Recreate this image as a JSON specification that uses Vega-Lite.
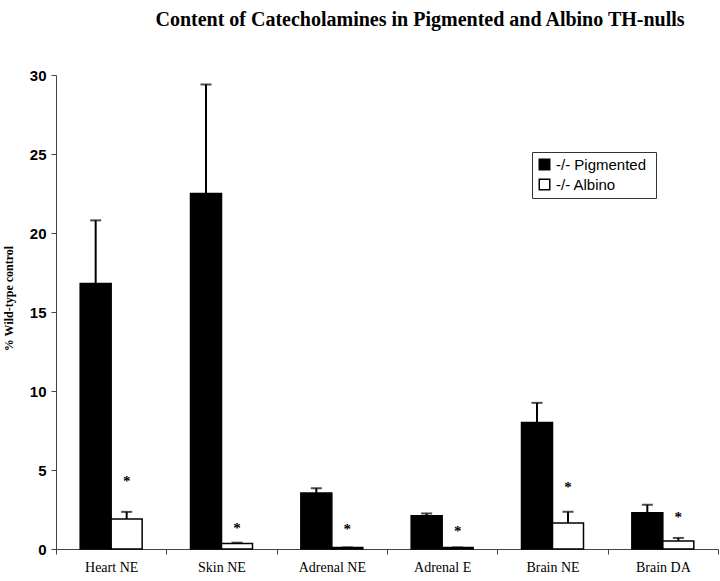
{
  "$schema": "https://vega.github.io/schema/vega-lite/v6.json",
  "autosize": "none",
  "width": 662,
  "height": 474,
  "padding": {"left": 56, "top": 75, "right": 2, "bottom": 32},
  "background": "white",
  "title": {
    "text": "Content of Catecholamines in Pigmented and Albino TH-nulls",
    "font": "Liberation Serif",
    "fontSize": 20,
    "fontWeight": "bold",
    "color": "black",
    "anchor": "middle",
    "dx": 33,
    "offset": 38
  },
  "data": {
    "values": [
      {"tissue": "Heart NE", "group": "-/-  Pigmented", "value": 16.8, "hi": 20.8, "star": null},
      {"tissue": "Heart NE", "group": "-/-  Albino", "value": 1.9, "hi": 2.35, "star": 4.5},
      {"tissue": "Skin NE", "group": "-/-  Pigmented", "value": 22.5, "hi": 29.4, "star": null},
      {"tissue": "Skin NE", "group": "-/-  Albino", "value": 0.35, "hi": 0.4, "star": 1.5},
      {"tissue": "Adrenal NE", "group": "-/-  Pigmented", "value": 3.55, "hi": 3.85, "star": null},
      {"tissue": "Adrenal NE", "group": "-/-  Albino", "value": 0.1, "hi": 0.1, "star": 1.45},
      {"tissue": "Adrenal E", "group": "-/-  Pigmented", "value": 2.1, "hi": 2.25, "star": null},
      {"tissue": "Adrenal E", "group": "-/-  Albino", "value": 0.1, "hi": 0.1, "star": 1.3},
      {"tissue": "Brain NE", "group": "-/-  Pigmented", "value": 8.0, "hi": 9.25, "star": null},
      {"tissue": "Brain NE", "group": "-/-  Albino", "value": 1.65, "hi": 2.35, "star": 4.1},
      {"tissue": "Brain DA", "group": "-/-  Pigmented", "value": 2.3, "hi": 2.8, "star": null},
      {"tissue": "Brain DA", "group": "-/-  Albino", "value": 0.5, "hi": 0.7, "star": 2.2}
    ]
  },
  "encoding": {
    "x": {
      "field": "tissue",
      "type": "nominal",
      "sort": ["Heart NE", "Skin NE", "Adrenal NE", "Adrenal E", "Brain NE", "Brain DA"],
      "scale": {"paddingInner": 0, "paddingOuter": 0},
      "axis": {
        "title": null,
        "labelAngle": 0,
        "labelFont": "Liberation Serif",
        "labelFontSize": 14,
        "labelColor": "black",
        "labelPadding": 6,
        "tickBand": "extent",
        "tickSize": 5,
        "tickColor": "#444",
        "domainColor": "#444",
        "domainWidth": 1,
        "grid": false
      }
    },
    "xOffset": {
      "field": "group",
      "type": "nominal",
      "sort": ["-/-  Pigmented", "-/-  Albino"],
      "scale": {"paddingOuter": 0.78, "paddingInner": 0}
    }
  },
  "layer": [
    {
      "mark": {"type": "bar", "stroke": "black", "strokeWidth": 1.5},
      "encoding": {
        "y": {
          "field": "value",
          "type": "quantitative",
          "scale": {"domain": [0, 30], "nice": false},
          "axis": {
            "values": [0, 5, 10, 15, 20, 25, 30],
            "title": "% Wild-type control",
            "titleFont": "Liberation Serif",
            "titleFontSize": 12,
            "titleFontWeight": "bold",
            "titleColor": "black",
            "titleY": 223,
            "titlePadding": 14,
            "labelFontSize": 15,
            "labelFont": "Liberation Sans",
            "labelFontWeight": "bold",
            "labelColor": "black",
            "labelPadding": 5,
            "tickSize": 5,
            "tickColor": "#444",
            "domainColor": "#444",
            "grid": false
          }
        },
        "fill": {
          "field": "group",
          "type": "nominal",
          "sort": ["-/-  Pigmented", "-/-  Albino"],
          "scale": {"range": ["black", "white"]},
          "legend": {
            "title": null,
            "orient": "none",
            "legendX": 476,
            "legendY": 77,
            "symbolType": "square",
            "symbolSize": 110,
            "symbolStrokeColor": "black",
            "symbolStrokeWidth": 1.5,
            "labelFont": "Liberation Sans",
            "labelFontSize": 15,
            "labelColor": "black",
            "labelOffset": 4,
            "strokeColor": "#333",
            "fillColor": "white",
            "padding": 5,
            "rowPadding": 3
          }
        }
      }
    },
    {
      "mark": {"type": "rule", "color": "black", "strokeWidth": 2},
      "encoding": {
        "y": {"field": "value", "type": "quantitative"},
        "y2": {"field": "hi"}
      }
    },
    {
      "mark": {"type": "tick", "color": "black", "thickness": 2, "size": 11},
      "encoding": {
        "y": {"field": "hi", "type": "quantitative"}
      }
    },
    {
      "transform": [{"filter": "datum.star != null"}],
      "mark": {"type": "text", "text": "*", "font": "Liberation Serif", "fontSize": 15, "fontWeight": "bold", "fill": "black", "baseline": "middle", "dy": 3},
      "encoding": {
        "y": {"field": "star", "type": "quantitative"}
      }
    }
  ],
  "config": {
    "view": {"stroke": null}
  }
}
